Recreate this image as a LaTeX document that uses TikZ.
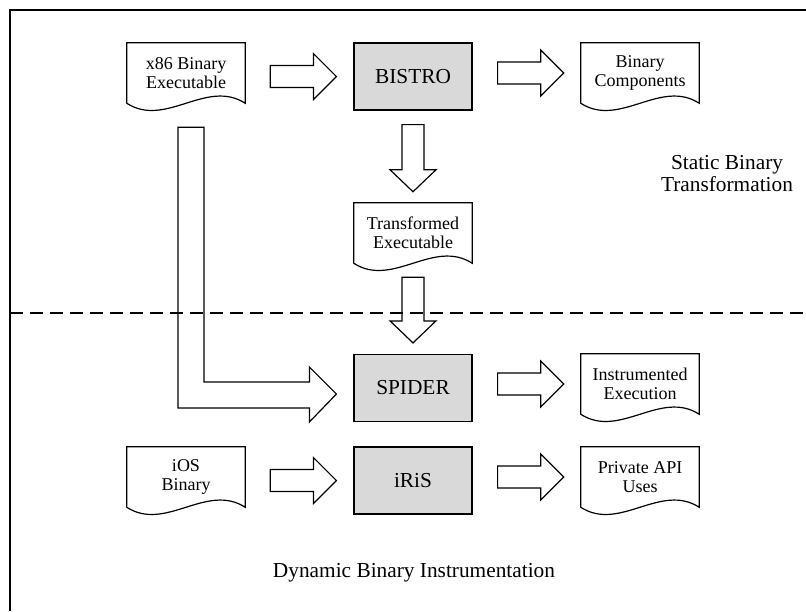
\documentclass[tikz,border=0pt]{standalone}
\usepackage{fontspec}
\setmainfont{Liberation Serif}
\usepackage{tikz}
\usetikzlibrary{calc}

\tikzset{
    procbox/.style={draw, fill=black!15, line width=0.9pt, minimum width=88.5pt,
        minimum height=50.25pt, font=\fontsize{16}{18}\selectfont},
    docnode/.style={minimum width=88.5pt, minimum height=45pt, inner sep=0pt,
        align=center, font=\fontsize{13.5}{14}\selectfont},
    docline/.style={draw, line width=0.9pt, line join=miter},
    fatline/.style={draw, fill=white, line width=0.9pt, line join=miter},
    zonelabel/.style={align=center, font=\fontsize{16}{16.5}\selectfont}
}

% document outline with a wavy bottom edge
\newcommand{\docframe}[1]{%
    \draw[docline] (#1.south west) -- (#1.north west) -- (#1.north east) -- (#1.south east)
        .. controls +(-39,-25) and +(39,25) .. (#1.south west);}

% block arrow pointing right, from one node to the next
\newcommand{\rfat}[2]{%
    \path (#1.east) ++(25,0) coordinate (ra) (#2.west) ++(-17,0) coordinate (rb);
    \draw[fatline] ($(ra |- rb)+(0,-11)$) -- ($(rb)+(-23,-11)$) -- ($(rb)+(-23,-23)$)
        -- (rb) -- ($(rb)+(-23,23)$) -- ($(rb)+(-23,11)$) -- ($(ra |- rb)+(0,11)$) -- cycle;}

% block arrow pointing down
\newcommand{\dfat}[2]{%
    \path (#1.south) ++(0,14) coordinate (da) (#2.north) ++(0,-11) coordinate (db);
    \draw[fatline] ($(da)+(-11,0)$) -- ($(db)+(-11,-22)$) -- ($(db)+(-23,-22)$)
        -- (db) -- ($(db)+(23,-22)$) -- ($(db)+(11,-22)$) -- ($(da)+(11,0)$) -- cycle;}

\begin{document}
\begin{tikzpicture}[x=0.75pt, y=-0.75pt]
    \useasboundingbox (0,0) rectangle (806,611);

    % Frame
    \draw[line width=0.9pt] (10,611) -- (10,10) -- (806,10);

    % Static part
    \node[docnode] (x86) at (186,73) {x86 Binary\\Executable};
    \node[procbox] (bistro) at (413,76.5) {BISTRO};
    \node[docnode] (comps) at (640,73) {Binary\\Components};
    \node[docnode] (trans) at (413,233) {Transformed\\Executable};

    % Dynamic part
    \node[procbox] (spider) at (413,388) {SPIDER};
    \node[docnode] (instr) at (640,384) {Instrumented\\Execution};
    \node[docnode] (ios) at (186,477) {iOS\\Binary};
    \node[procbox] (iris) at (413,480.5) {iRiS};
    \node[docnode] (priv) at (640,477) {Private API\\Uses};

    \foreach \d in {x86,comps,trans,instr,ios,priv}
        \docframe{\d};

    % Block arrows
    \rfat{x86}{bistro}
    \rfat{bistro}{comps}
    \dfat{bistro}{trans}
    \dfat{trans}{spider}
    \rfat{spider}{instr}
    \rfat{ios}{iris}
    \rfat{iris}{priv}

    % Bent arrow from the executable straight into SPIDER
    \coordinate (lt) at ($(x86.south)+(-8,24)$);
    \coordinate (lp) at ($(spider.west)+(-17,6)$);
    \draw[fatline] (lt) -- ($(lt |- lp)+(0,14)$) -- ($(lp)+(-27,14)$) -- ($(lp)+(-27,28)$)
        -- (lp) -- ($(lp)+(-27,-27)$) -- ($(lp)+(-27,-12)$) -- ($(lt |- lp)+(26,-12)$)
        -- ($(lt)+(26,0)$) -- cycle;

    % Divider between the two stages
    \draw[line width=0.9pt, dash pattern=on 9.75pt off 5.25pt] (10,313) -- (806,313);

    % Zone labels
    \node[zonelabel] (static) at (727,174) {Static Binary\\Transformation};
    \node[zonelabel] (dynamic) at (414,573) {Dynamic Binary Instrumentation};
\end{tikzpicture}
\end{document}
